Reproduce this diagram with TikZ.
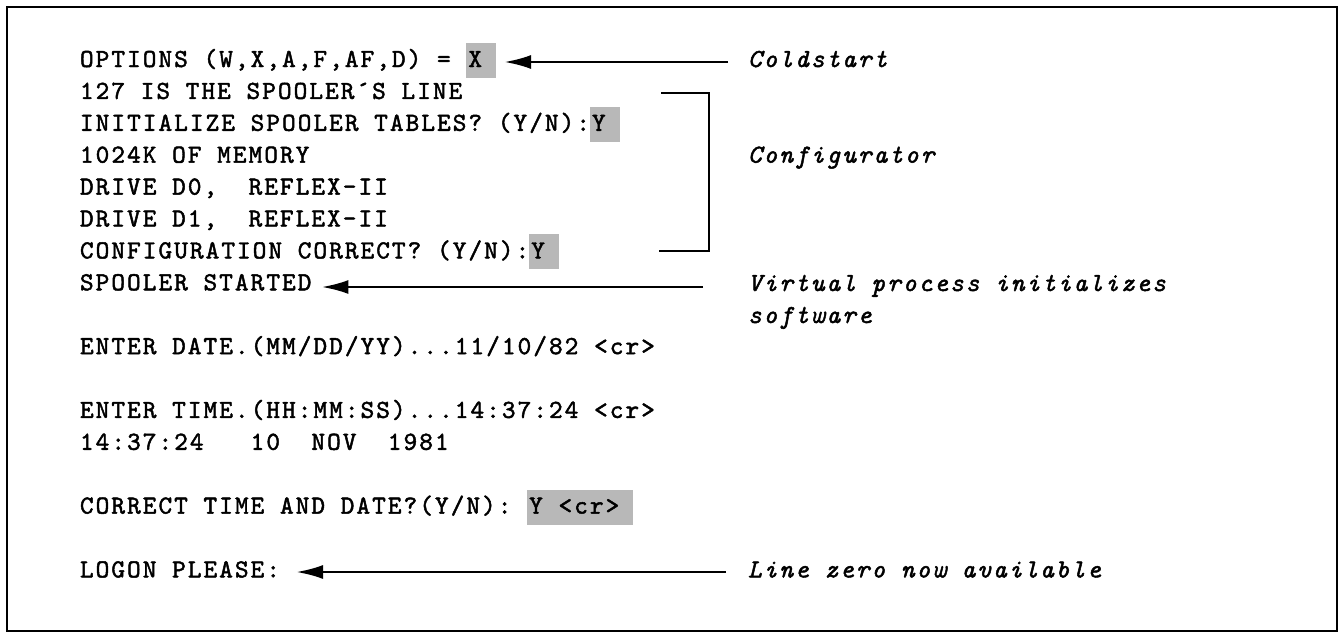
\documentclass[tikz,border=0pt]{standalone}
\usepackage{fontspec}
\usetikzlibrary{arrows.meta}
% typewriter face: Latin Modern Mono, letter-spaced to a 12-pitch look
\newfontfamily\typer{lmmono10-regular}[Extension=.otf, ItalicFont=lmmono10-italic, LetterSpace=7.9, FakeBold=1.8]
\definecolor{hlgray}{gray}{0.72}
% shaded field for the operator's keyed-in answers
\newcommand\hlbox[1]{{\setlength{\fboxsep}{0pt}\colorbox{hlgray}{\rule[-11pt]{0pt}{35pt}\hspace{2pt}#1\hspace{14pt}}}}

\begin{document}
\begin{tikzpicture}[x=1pt,y=-1pt,
  every node/.style={inner sep=0pt, outer sep=0pt},
  screen/.style={anchor=base west,
    font={\typer\fontsize{26}{32}\selectfont\fontdimen2\font=15.7pt\relax}},
  note/.style={anchor=base west, align=left,
    font={\typer\itshape\fontsize{26}{32}\selectfont\fontdimen2\font=15.7pt\relax}},
  pointer/.style={line width=2.8pt, -{Latex[length=27pt,width=14pt]}},
  bracket/.style={line width=2.8pt}]

\useasboundingbox (0,0) rectangle (1341,637);

% outer frame
\draw[line width=1.7pt] (7,7) rectangle (1337,631);

% console dialogue
\node[screen] (l1)  at (80,67)    {OPTIONS (W,X,A,F,AF,D) = \hlbox{X}};
\node[screen] (l2)  at (80,98.9)  {127 IS THE SPOOLER´S LINE};
\node[screen] (l3)  at (80,130.8) {INITIALIZE SPOOLER TABLES? (Y/N):\hlbox{Y}};
\node[screen] (l4)  at (80,162.7) {1024K OF MEMORY};
\node[screen] (l5)  at (80,194.6) {DRIVE D0,\ \ REFLEX-II};
\node[screen] (l6)  at (80,226.5) {DRIVE D1,\ \ REFLEX-II};
\node[screen] (l7)  at (80,258.4) {CONFIGURATION CORRECT? (Y/N):\hlbox{Y}};
\node[screen] (l8)  at (80,290.3) {SPOOLER STARTED};
\node[screen] (l10) at (80,354.1) {ENTER DATE.(MM/DD/YY)...11/10/82 <cr>};
\node[screen] (l12) at (80,417.9) {ENTER TIME.(HH:MM:SS)...14:37:24 <cr>};
\node[screen] (l13) at (80,449.8) {14:37:24\ \ \ 10\ \ NOV\ \ 1981};
\node[screen] (l15) at (80,513.6) {CORRECT TIME AND DATE?(Y/N): \hlbox{Y <cr>}};
\node[screen] (l17) at (80,577.4) {LOGON PLEASE:};

% annotations (a multi-line node sits on the baseline of its last line)
\node[note] (cs) at (748,67)    {Coldstart};
\node[note] (cf) at (748,162.7) {Configurator};
\node[note] (vp) at (748,323)   {Virtual process initializes\\software};
\node[note] (lz) at (748,577.4) {Line zero now available};

% pointers from the annotations to the dialogue
\coordinate (csTail) at (728,62);
\coordinate (vpTail) at (703,287);
\coordinate (lzTail) at (726,572);
\draw[pointer] (csTail) -- ([xshift=8pt]l1.east |- csTail);
\draw[pointer] (vpTail) -- ([xshift=10pt]l8.east |- vpTail);
\draw[pointer] (lzTail) -- ([xshift=16pt]l17.east |- lzTail);

% bracket grouping the configurator lines
\coordinate (brTop) at (661,93);
\coordinate (brBot) at (659,251);
\draw[bracket] (brTop) -- ++(48,0) |- (brBot);
\end{tikzpicture}
\end{document}
